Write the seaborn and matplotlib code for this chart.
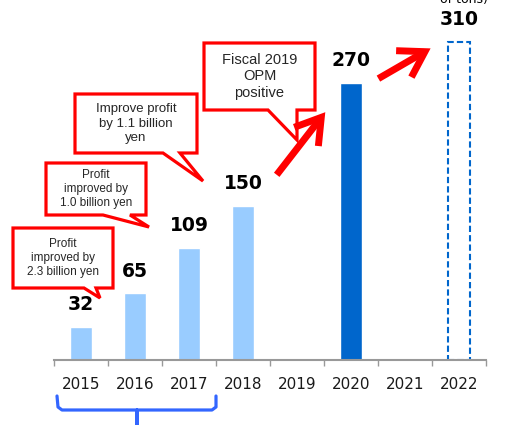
import numpy as np
import pandas as pd
import matplotlib
matplotlib.use("Agg")
import matplotlib.pyplot as plt
import seaborn as sns
from matplotlib.patches import Polygon, FancyArrowPatch
from matplotlib.lines import Line2D
from matplotlib.transforms import Affine2D

# Datos del gráfico
years = ["2015", "2016", "2017", "2018", "2019", "2020", "2021", "2022"]
values = [32, 65, 109, 150, np.nan, 270, np.nan, 310]
bar_kind = ["past", "past", "past", "past", "none", "actual", "none", "plan"]

callout_texts = [
    "Profit\nimproved by\n2.3 billion yen",
    "Profit\nimproved by\n1.0 billion yen",
    "Improve profit\nby 1.1 billion\nyen",
    "Fiscal 2019\nOPM\npositive",
]

LIGHT = "#99ccff"
DARK = "#0066cc"
RED = "#ff0000"
W, H = 512, 425

sns.set_style("white")
fig = plt.figure(figsize=(W / 100, H / 100), dpi=100)
ax = fig.add_axes([54 / W, (H - 360) / H, 432 / W, 360 / H])

df = pd.DataFrame({"year": years, "value": values})
sns.barplot(data=df, x="year", y="value", order=years, color=LIGHT,
            width=0.4, saturation=1, ax=ax)

# Estilo de cada barra segun su tipo
for p in ax.patches:
    h = p.get_height()
    if not np.isfinite(h):
        continue
    i = int(round(p.get_x() + p.get_width() / 2))
    kind = bar_kind[i]
    if kind == "actual":
        p.set_facecolor(DARK)
    elif kind == "plan":
        p.set_facecolor("white")
        p.set_edgecolor(DARK)
        p.set_linestyle((0, (3, 1.5)))
        p.set_linewidth(1.5)

# Etiquetas de valor
for i, v in enumerate(values):
    if np.isfinite(v):
        ax.annotate(f"{v:.0f}", (i, v), xytext=(0, 16), textcoords="offset points",
                    ha="center", va="center", fontsize=13.5, fontweight="bold",
                    family="DejaVu Sans", color="black")

ax.set_xlim(-0.5, len(years) - 0.5)
ax.set_ylim(0, 351)
ax.set_xlabel("")
ax.set_ylabel("")
ax.set_yticks([])
for s in ["top", "left", "right"]:
    ax.spines[s].set_visible(False)
ax.spines["bottom"].set_color("#999999")
ax.spines["bottom"].set_linewidth(1.5)

ax.set_xticks(np.arange(len(years) + 1) - 0.5)
ax.set_xticklabels([])
ax.tick_params(axis="x", which="major", bottom=True, length=4.5, width=1,
               color="#999999", direction="out")
ax.set_xticks(np.arange(len(years)), minor=True)
ax.set_xticklabels(years, minor=True, fontsize=11, family="DejaVu Sans", color="#1a1a1a")
ax.tick_params(axis="x", which="minor", bottom=True, length=0, pad=12)

# Transformacion en pixeles de imagen (origen arriba a la izquierda)
px = Affine2D().scale(1 / W, -1 / H).translate(0, 1) + fig.transFigure


def callout(box, tail, text, size):
    x0, y0, x1, y1 = box
    ta, tb, tip = tail
    pts = [(x0, y0), (x1, y0), (x1, y1), (tb, y1), tip, (ta, y1), (x0, y1)]
    poly = Polygon(pts, closed=True, transform=px, facecolor="white",
                   edgecolor=RED, linewidth=2.3, joinstyle="miter", zorder=5)
    fig.add_artist(poly)
    fig.text(((x0 + x1) / 2) / W, 1 - ((y0 + y1) / 2) / H, text, ha="center", va="center",
             fontsize=size, family="Liberation Sans", linespacing=1.25, zorder=6)


callout((13, 228, 113, 288), (84, 96, (100, 298)), callout_texts[0], 8.5)
callout((46, 163, 146, 215), (103, 130, (149, 227)), callout_texts[1], 8.5)
callout((75, 94, 197, 153), (163, 180, (203, 181)), callout_texts[2], 9.5)
callout((204, 43, 315, 110), (268, 297, (297, 140)), callout_texts[3], 10.5)

# Flechas rojas
for start, end in [((275, 177), (327, 110)), ((376, 80), (433, 47))]:
    arr = FancyArrowPatch(start, end, transform=px, arrowstyle="->,head_length=0.8,head_width=0.5",
                          mutation_scale=22, color=RED, linewidth=5, capstyle="butt",
                          joinstyle="miter", zorder=7)
    fig.add_artist(arr)

# Llave bajo 2015-2017
bx = [57, 58, 62, 137, 137, 137, 212, 216, 216]
by = [396, 407, 410, 410, 425, 410, 410, 407, 396]
fig.add_artist(Line2D(bx, by, transform=px, color="#3366ff", linewidth=2.3,
                      solid_joinstyle="round"))

# Unidad (cortada en el borde superior, como en el original)
fig.text(488 / W, 1 - 6 / H, "of tons)", ha="right", va="bottom", fontsize=9,
         family="DejaVu Sans", color="black")

fig.savefig("out.png", dpi=100)
